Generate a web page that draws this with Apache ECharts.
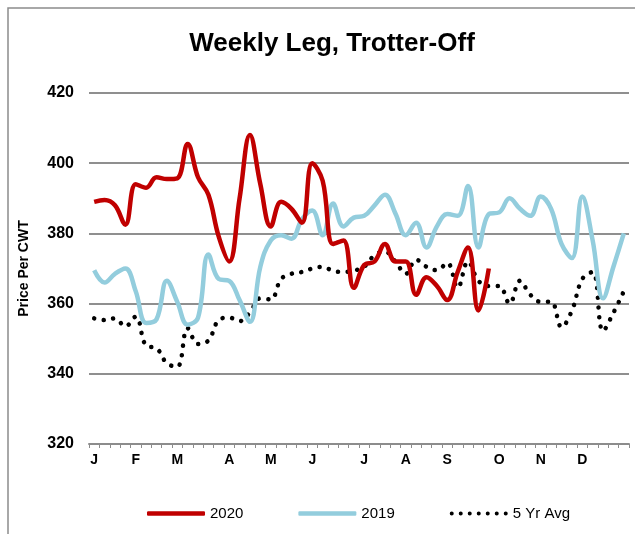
<!DOCTYPE html>
<html>
<head>
<meta charset="utf-8">
<script src="https://cdn.jsdelivr.net/npm/echarts@6/dist/echarts.min.js"></script>
<style>
  html, body { margin: 0; padding: 0; background: #fff; }
  #chart { width: 635px; height: 534px; }
</style>
</head>
<body>
<div id="chart"></div>
<script>
// weeks of the year, month letter shown at the week each month starts
var weeks = [];
for (var w = 1; w <= 52; w++) weeks.push('W' + w);
var monthLabels = ['J', 'F', 'M', 'A', 'M', 'J', 'J', 'A', 'S', 'O', 'N', 'D'];
var monthStartWeek = [0, 4, 8, 13, 17, 21, 26, 30, 34, 39, 43, 47];

var yTicks = [320, 340, 360, 380, 400, 420];

// $/cwt
var price2020 = [389, 389.5, 388, 382.5, 394, 393, 396, 395.5, 395.7, 405.5,
                 396, 391, 379, 372, 390, 408, 394, 382, 389, 387,
                 383, 400, 395, 377, 378, 364.5, 371, 372, 377, 372,
                 372, 362.5, 367.5, 365, 361, 369, 376, 358, 370];

var price2019 = [369.5, 366, 368.5, 370, 363.5, 354.5, 355.5, 366.5, 360.5, 354,
                 356, 374, 367, 366.5, 361, 354.8, 370.5, 378, 379.5, 378.5,
                 384, 386.5, 379.5, 388.5, 382, 384.5, 385, 388, 391, 385.7,
                 379.5, 383, 376, 382, 385.5, 385, 393.5, 376, 385.5, 386,
                 390, 387, 385, 390.5, 387, 377, 373, 390.5, 378, 361.5,
                 370.5, 380];

var avg5yr = [355.8, 355.3, 355.8, 353.5, 356.3, 348, 347.3, 343, 342, 353,
              348.5, 349.5, 355.3, 356, 355, 357.5, 361.5, 361.2, 367, 368.5,
              369, 370, 370.5, 369.3, 369, 369.4, 370.5, 373.8, 374.8, 372,
              368.5, 372.5, 370.5, 369.5, 371.6, 364.5, 372, 366.5, 365, 365,
              360, 366.5, 362.5, 360.5, 360.5, 353.3, 358, 367, 369, 352.2,
              357.4, 363.5];

var labelFor = {};
monthStartWeek.forEach(function (wk, i) { labelFor[wk] = monthLabels[i]; });

// legend icon for the dotted series: a row of 7 round dots
var dotIcon = 'path://';
for (var k = 0; k < 7; k++) {
    var cx = 2 + k * 9;
    dotIcon += 'M' + (cx - 2) + ',2a2,2 0 1,0 4,0a2,2 0 1,0 -4,0Z';
}

var chart = echarts.init(document.getElementById('chart'));

chart.setOption({
    animation: false,
    textStyle: { fontFamily: 'Liberation Sans, Arial, sans-serif' },
    title: {
        text: 'Weekly Leg, Trotter-Off',
        left: 327,
        top: 26,
        textAlign: 'center',
        textStyle: { fontSize: 26, fontWeight: 'bold', color: '#000' }
    },
    graphic: [{
        type: 'rect',
        shape: { x: 8, y: 8, width: 800, height: 700 },
        style: { fill: 'none', stroke: '#8c8c8c', lineWidth: 1.5 },
        silent: true
    }],
    legend: {
        top: 506,
        left: 147,
        padding: 0,
        itemWidth: 58,
        itemHeight: 4.5,
        itemGap: 55,
        textStyle: { fontSize: 15, color: '#000' },
        data: [
            { name: '2020', icon: 'roundRect' },
            { name: '2019', icon: 'roundRect' },
            { name: '5 Yr Avg', icon: dotIcon }
        ]
    },
    grid: { left: 89, right: 6, top: 93, bottom: 90 },
    xAxis: {
        type: 'category',
        data: weeks,
        boundaryGap: true,
        axisLine: { lineStyle: { color: '#8c8c8c', width: 2 } },
        axisTick: { show: true, interval: 0, length: 4, lineStyle: { color: '#8c8c8c', width: 1 } },
        axisLabel: {
            interval: 0,
            margin: 9,
            fontSize: 14,
            fontWeight: 'bold',
            color: '#000',
            formatter: function (val, idx) { return labelFor[idx] || ''; }
        },
        splitLine: { show: false }
    },
    yAxis: {
        type: 'value',
        min: yTicks[0],
        max: yTicks[yTicks.length - 1],
        interval: 20,
        name: 'Price Per CWT',
        nameLocation: 'middle',
        nameGap: 58,
        nameTextStyle: { fontSize: 14, fontWeight: 'bold', color: '#000' },
        axisLine: { show: false },
        axisTick: { show: false },
        axisLabel: { fontSize: 16, fontWeight: 'bold', color: '#000', margin: 15 },
        splitLine: { lineStyle: { color: '#8f8f8f', width: 2 } }
    },
    series: [
        {
            name: '2020',
            type: 'line',
            data: price2020,
            smooth: 0.4,
            symbol: 'none',
            z: 4,
            itemStyle: { color: '#C00000' },
            lineStyle: { color: '#C00000', width: 4.5 }
        },
        {
            name: '2019',
            type: 'line',
            data: price2019,
            smooth: 0.4,
            symbol: 'none',
            z: 3,
            itemStyle: { color: '#93CDDD' },
            lineStyle: { color: '#93CDDD', width: 4.5 }
        },
        {
            name: '5 Yr Avg',
            type: 'line',
            data: avg5yr,
            smooth: 0.4,
            symbol: 'none',
            z: 2,
            itemStyle: { color: '#000' },
            lineStyle: { color: '#000', width: 4.5, type: [0.1, 9.5], cap: 'round' }
        }
    ]
});
</script>
</body>
</html>
